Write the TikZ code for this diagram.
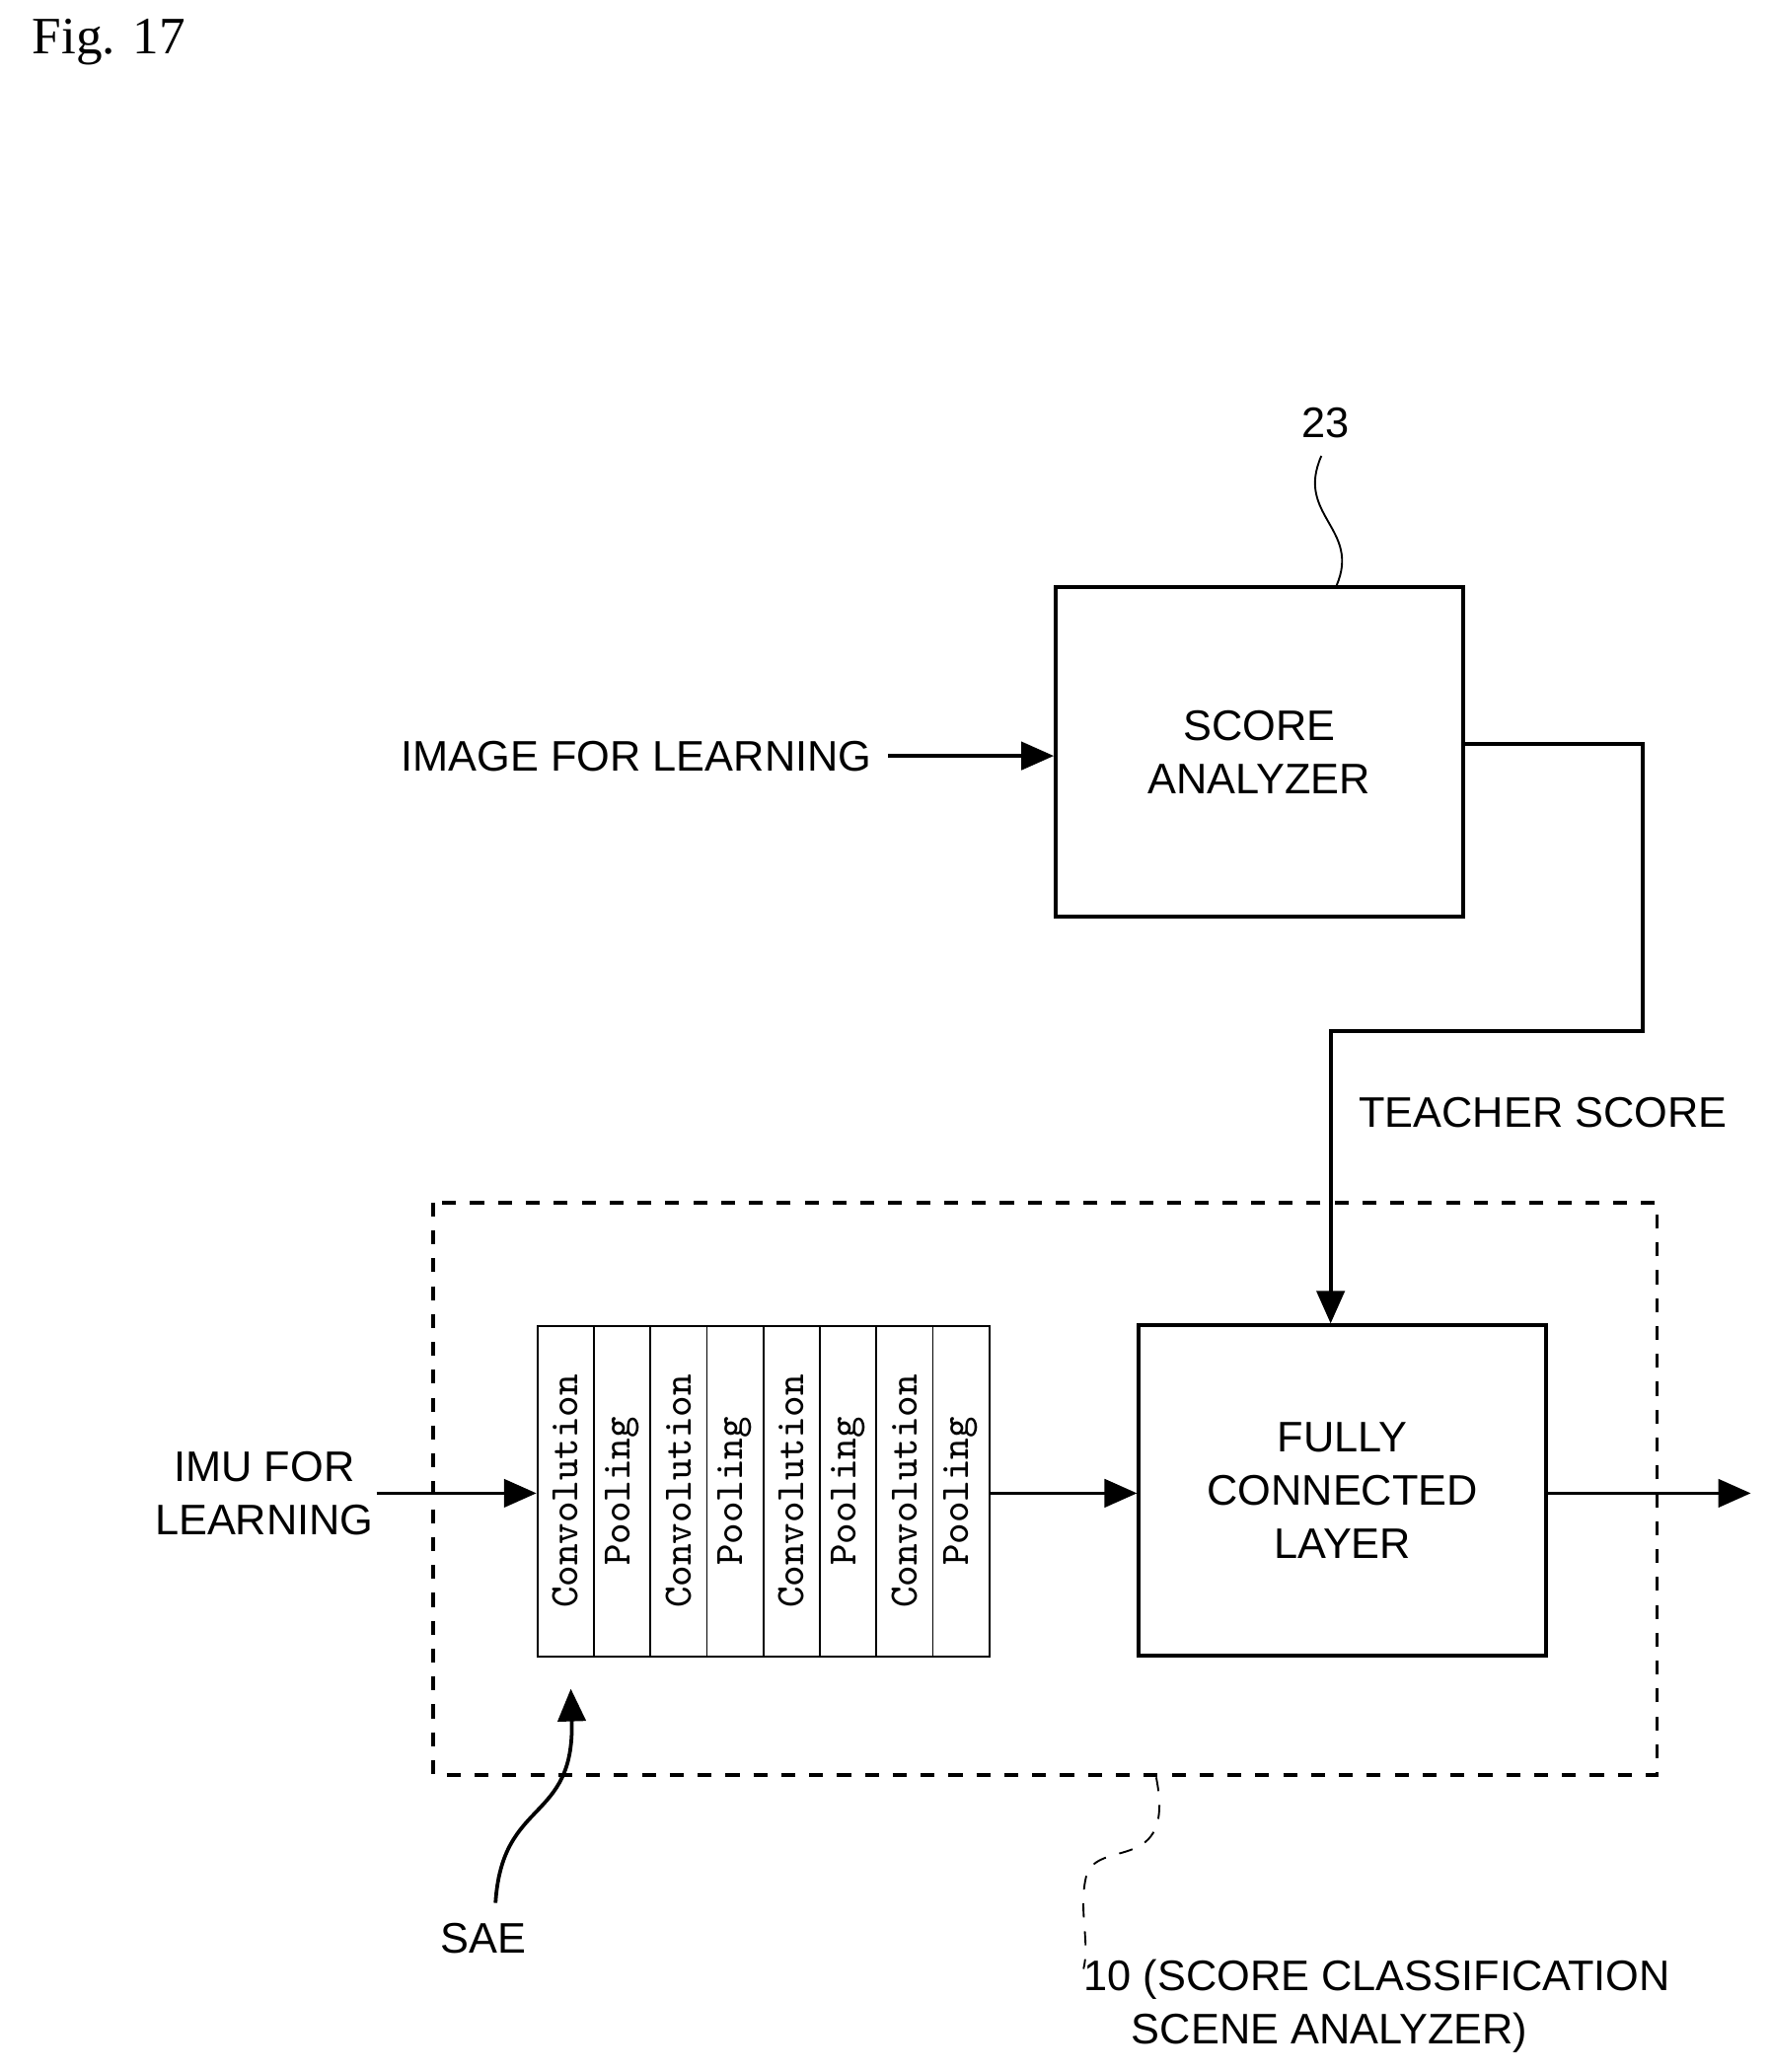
\documentclass[tikz,border=0pt]{standalone}
\usepackage{fontspec}
\setmainfont{Liberation Sans}
\newfontfamily\figfont{Liberation Serif}
\usetikzlibrary{arrows.meta,positioning}
\begin{document}
\begin{tikzpicture}[x=0.01cm,y=-0.01cm,>={Triangle[length=7pt,width=6pt]},
  every node/.style={font=\fontsize{9.2}{11.5}\selectfont},
  layer/.style={draw,minimum width=42.75*0.01cm,minimum height=250*0.01cm,anchor=north west,inner sep=0pt},
  lbl/.style={rotate=90,font=\fontsize{8.7}{10}\selectfont\ttfamily},
  wire/.style={thick}]
  \useasboundingbox (0,0) rectangle (1340,1568);
  \node[anchor=west,font=\figfont\fontsize{11.3}{13}\selectfont] (fig) at (12,32) {Fig. 17};
  % score analyzer
  \node[draw,thick,minimum width=3.08cm,minimum height=2.49cm,align=center] (score) at (953,569) {SCORE\\ANALYZER};
  \node (n23) at (1003,320) {23};
  \draw (score.north east) ++(-97,0) coordinate (s23) .. controls (1030,400) and (980,390) .. (1000,345);
  \node[anchor=east] (img) at (672,572) {IMAGE FOR LEARNING};
  \draw[wire,->] (img.east) -- (score.west |- img.east);
  % analyzer block
  \draw[thick,dashed] (328,910) rectangle (1254,1343);
  \foreach \i/\t in {0/Convolution,1/Pooling,2/Convolution,3/Pooling,4/Convolution,5/Pooling,6/Convolution,7/Pooling} {
    \node[layer] (l\i) at (406+42.75*\i,1003) {};
    \node[lbl] at (l\i.center) {\t};
  }
  \node[draw,thick,minimum width=3.08cm,minimum height=2.5cm,align=center] (fc) at (1016,1128) {FULLY\\CONNECTED\\LAYER};
  \coordinate (teach) at (1007,780);
  \draw[wire,->] (score.east |- 0,563) -| (1243,780) -- (teach) -- (fc.north -| teach);
  \node[anchor=west] (ts) at (1016,842) {TEACHER SCORE};
  \node[align=center] (imu) at (200,1130) {IMU FOR\\LEARNING};
  \draw[wire,->] (285,1130) coordinate (imuend) -- (l0.west |- imuend);
  \draw[wire,->] (l7.east |- imuend) -- (fc.west |- imuend);
  \coordinate (out) at (1325,1130);
  \draw[wire,->] (fc.east |- out) -- (out);
  % leaders
  \node (sae) at (366,1467) {SAE};
  \draw[wire,->] (375,1440) .. controls (380,1360) and (435,1380) .. (432,1278);
  \node[anchor=west,align=left] (ten) at (808,1518) {10 (SCORE CLASSIFICATION\\\ \ \ \ SCENE ANALYZER)};
  \draw[dashed] (875,1345) .. controls (890,1420) and (830,1390) .. (822,1420) .. controls (816,1445) and (825,1470) .. (820,1490);
\end{tikzpicture}
\end{document}
